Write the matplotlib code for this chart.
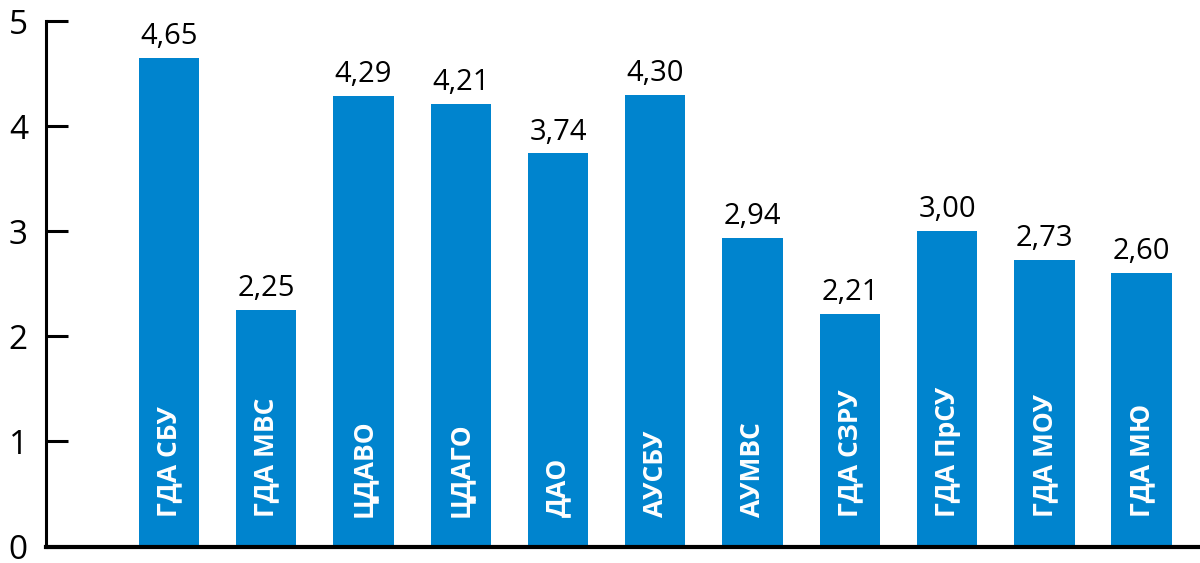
import matplotlib.pyplot as plt

plt.rcParams['font.family'] = ['Open Sans', 'DejaVu Sans']

# Дані
categories = ['ГДА СБУ', 'ГДА МВС', 'ЦДАВО', 'ЦДАГО', 'ДАО', 'АУСБУ',
              'АУМВС', 'ГДА СЗРУ', 'ГДА ПрСУ', 'ГДА МОУ', 'ГДА МЮ']
values = [4.65, 2.25, 4.29, 4.21, 3.74, 4.30, 2.94, 2.21, 3.00, 2.73, 2.60]
yticks = [0, 1, 2, 3, 4, 5]

color = '#0084CE'

fig = plt.figure(figsize=(12, 5.63), dpi=100)
ax = fig.add_axes([46 / 1200, 16.5 / 563, 1 - 46 / 1200, 525.5 / 563])

x = list(range(len(categories)))
bars = ax.bar(x, values, width=0.62, color=color, zorder=2)

for xi, v, name in zip(x, values, categories):
    ax.annotate(f'{v:.2f}'.replace('.', ','), (xi, v), xytext=(0, 10),
                textcoords='offset points', ha='center', va='baseline',
                fontsize=21, color='black')
    ax.text(xi, 0.28, name, rotation=90, ha='center', va='bottom',
            color='white', fontsize=19, fontweight='bold')

ax.set_xlim(-1.264, 10.6)
ax.set_ylim(0, 5)
ax.set_yticks(yticks)
ax.set_yticklabels([str(t) for t in yticks])
ax.set_xticks([])

ax.tick_params(axis='y', direction='in', length=16, width=2.2, pad=13,
               labelsize=24, colors='black')
for side in ['top', 'right']:
    ax.spines[side].set_visible(False)
ax.spines['left'].set_linewidth(2.2)
ax.spines['bottom'].set_linewidth(3)

fig.savefig('out.png', dpi=100)
